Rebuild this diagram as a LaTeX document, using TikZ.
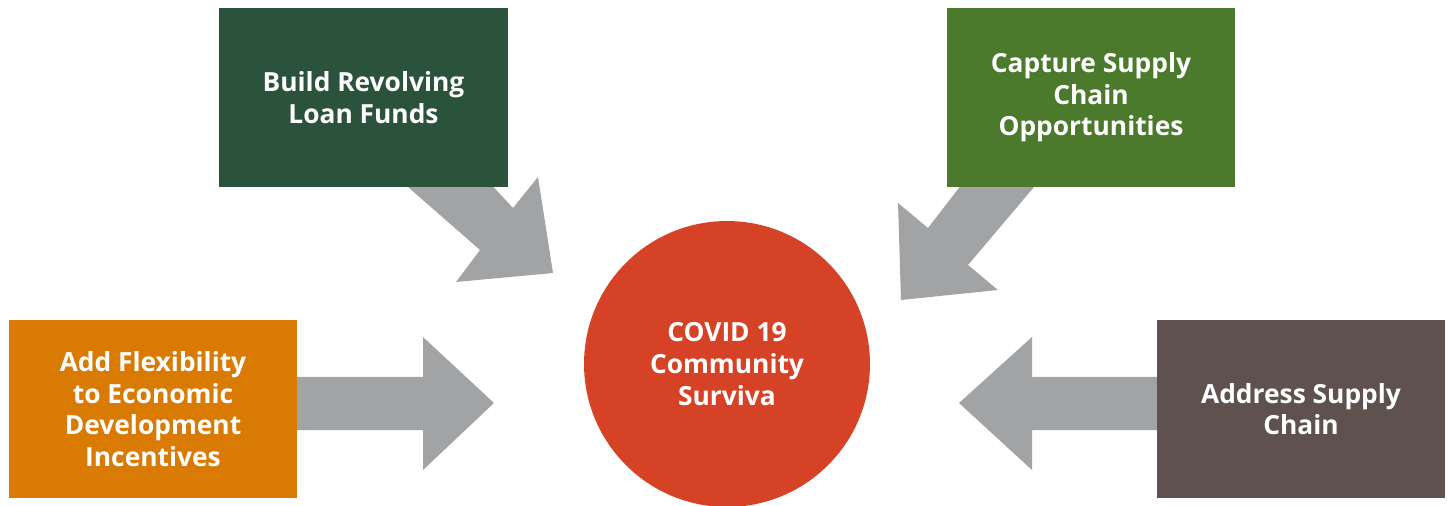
\documentclass[tikz,border=0pt]{standalone}
\usepackage{fontspec}
\setmainfont{Open Sans}
\usetikzlibrary{positioning}
\definecolor{loangreen}{HTML}{2B523A}
\definecolor{supplygreen}{HTML}{4B7A2C}
\definecolor{flexorange}{HTML}{D97A02}
\definecolor{chainbrown}{HTML}{5E514E}
\definecolor{covidred}{HTML}{D64226}
\definecolor{arrowgrey}{HTML}{A2A3A5}
\begin{document}
\begin{tikzpicture}[x=0.02cm, y=-0.02cm,
    box/.style={rectangle, minimum width=5.78cm, minimum height=3.58cm, inner sep=0pt,
        text=white, font=\bfseries\fontsize{15}{18}\selectfont, align=center},
    blockarrow/.style={fill=arrowgrey, draw=none}]
    \useasboundingbox (0,0) rectangle (1450,506);

    % Block arrows (drawn first, boxes go on top)
    \fill[blockarrow] (400,180) -- (480,250) -- (456,282) -- (553,273) -- (538,177) -- (513,208) -- (487,180) -- cycle;
    \fill[blockarrow] (1040,180) -- (968,265) -- (998,290) -- (901,300) -- (898,203) -- (928,228) -- (965,180) -- cycle;
    \fill[blockarrow] (290,377) -- (423,377) -- (423,337) -- (494,403) -- (423,470) -- (423,430) -- (290,430) -- cycle;
    \fill[blockarrow] (1165,377) -- (1032,377) -- (1032,337) -- (959,403) -- (1032,470) -- (1032,430) -- (1165,430) -- cycle;

    % Boxes
    \node[box, fill=loangreen] (loan) at (363.5,97.5) {Build Revolving\\Loan Funds};
    \node[box, fill=supplygreen] (capture) at (1091,97.5) {Capture Supply\\Chain\\Opportunities};
    \node[box, fill=flexorange] (flex) at (153,409) {Add Flexibility\\to Economic\\Development\\Incentives};
    \node[box, fill=chainbrown] (chain) at (1301,409) {Address Supply\\Chain};

    % Centre circle
    \node[circle, fill=covidred, minimum size=5.72cm, inner sep=0pt, text=white,
        font=\bfseries\fontsize{15}{18}\selectfont, align=center] (covid) at (727,364)
        {COVID 19\\Community\\Surviva};
\end{tikzpicture}
\end{document}
